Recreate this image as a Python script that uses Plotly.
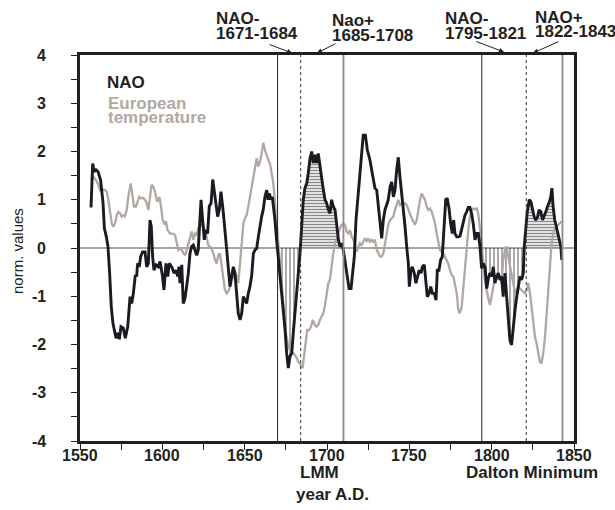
import numpy as np
import plotly.graph_objects as go

# ---------------- data ----------------
nao_years = [1556.7, 1557.7, 1558.5, 1559.7, 1561, 1562.5, 1564, 1564.8, 1566, 1567, 1568, 1569, 1570,
             1571.9, 1572.9, 1573.9, 1574.9, 1576.3, 1577.5, 1579, 1580.4, 1581.4, 1582.4, 1583.6, 1584.4,
             1585, 1586, 1586.8, 1588, 1589.5, 1590.5, 1591.5, 1592.5, 1593.3, 1594.1, 1594.9, 1596.2,
             1597.6, 1598.6, 1600, 1601, 1602.2, 1603.3, 1604.2, 1605.7, 1607.1, 1608.3, 1609.3, 1610.1,
             1610.7, 1611.8, 1612.7, 1613.8, 1614.8, 1615.8, 1616.8, 1617.8, 1618.8, 1619.8, 1620.9,
             1621.8, 1622.9, 1623.5, 1624.3, 1625.5, 1626.3, 1627.5, 1628.5, 1629.6, 1630.6, 1631.6,
             1632.4, 1633.6, 1634.6, 1635.6, 1637, 1638, 1639.1, 1640, 1641.1, 1642.1, 1643.1, 1644.1,
             1645.1, 1646.1, 1647.2, 1648.2, 1649.2, 1650.2, 1651.2, 1652.2, 1653.2, 1654.3, 1655.3,
             1656.3, 1657.3, 1658.3, 1659.3, 1660.3, 1661.3, 1662.3, 1663.4, 1664.2, 1665, 1666, 1666.8,
             1667.6, 1668.4, 1669.4, 1670.4, 1671.5, 1672.5, 1673.5, 1674.5, 1675.5, 1676.5, 1677.5,
             1678.6, 1679.5, 1680.6, 1681.6, 1682.6, 1683.6, 1684.6, 1685.6, 1686.6, 1687.7, 1688.6,
             1689.7, 1690.7, 1691.7, 1692.7, 1693.7, 1694.7, 1695.7, 1696.8, 1697.8, 1698.8, 1699.8,
             1700.8, 1701.8, 1702.8, 1703.8, 1704.9, 1705.9, 1706.9, 1707.9, 1708.9, 1709.9, 1710.9,
             1712.3, 1713.4, 1714.6, 1715.6, 1716.6, 1717.6, 1718.6, 1719.6, 1721.1, 1722, 1723.3,
             1724.5, 1726.1, 1727.7, 1729.1, 1730.2, 1731.2, 1732.2, 1733.2, 1734.2, 1735.2, 1736.3,
             1737.2, 1738.3, 1739.3, 1740.3, 1741.3, 1742.3, 1743.3, 1744.3, 1745.4, 1746.3, 1747.4,
             1748.4, 1749.4, 1750, 1751, 1751.8, 1753, 1754, 1755.1, 1756, 1757.1, 1757.9, 1759.1, 1760,
             1760.9, 1762, 1763, 1764, 1765.2, 1766.2, 1767, 1768, 1769, 1770, 1771, 1772.1, 1773,
             1774.1, 1775.1, 1776.1, 1776.9, 1777.7, 1778.8, 1779.7, 1780.8, 1781.8, 1782.8, 1783.8,
             1784.8, 1785.8, 1786.8, 1787.9, 1788.9, 1789.9, 1790.9, 1791.9, 1792.9, 1793.9, 1794.9,
             1796, 1797, 1798, 1799, 1800, 1801, 1802, 1803, 1804, 1805, 1806, 1807, 1808.1, 1809.1,
             1810.1, 1811.1, 1812.1, 1813.1, 1814.2, 1815.2, 1816.2, 1817.2, 1818.2, 1819.2, 1819.8,
             1820.6, 1821.6, 1822.8, 1823.8, 1824.9, 1825.8, 1826.8, 1827.9, 1828.8, 1829.9, 1830.9,
             1831.8, 1832.9, 1833.9, 1834.8, 1835.9, 1836.6, 1837.3, 1838.3, 1839.3, 1840.3, 1841.4,
             1842, 1842.6]
nao_values = [0.84, 1.75, 1.58, 1.62, 1.58, 1.41, 0.93, 0.41, 0.23, 0.03, -0.52, -1.22, -1.56,
              -1.87, -1.76, -1.89, -1.63, -1.66, -1.87, -1.63, -1.01, -1.15, -0.94, -0.56, -0.59,
              -0.32, -0.39, -0.18, -0.08, -0.08, -0.39, -0.32, 0.58, 0.44, -0.18, -0.46, -0.35,
              -0.39, -0.28, -0.56, -0.87, -0.32, -0.59, -0.32, -0.39, -0.52, -0.46, -0.59, -0.39,
              -0.73, -0.35, -1.15, -1.04, -0.80, -0.52, -0.11, 0.03, 0.06, -0.04, -0.15,
              -0.04, 0.62, 1.0, 0.65, 0.17, 0.37, 0.30, 0.86, 0.93, 1.42, 1.17,
              0.86, 0.65, 0.79, 1.17, 0.75, 0.30, -0.04, -0.39, -0.80, -0.59, -0.39, -0.52,
              -1.01, -1.35, -1.49, -1.35, -1.01, -1.08, -1.15, -0.94, -0.80, -0.56, -0.11,
              -0.04, -0.01, 0.23, 0.46, 0.65, 0.80, 1.06, 1.20, 1.0, 1.13, 1.0, 1.06,
              0.86, 0.58, 0.17, -0.18, -0.55, -0.90, -1.28, -1.68, -2.18, -2.49, -2.25,
              -2.18, -1.77, -1.35, -0.94, -0.52, -0.11, 0.44, 1.0, 1.24, 1.34, 1.55,
              1.86, 2.0, 1.76, 1.93, 1.76, 1.96, 1.69, 1.41, 1.20, 1.0, 0.93,
              0.79, 0.72, 1.0, 0.86, 0.79, 0.51, 0.17, 0.03, 0.10, -0.04, -0.25,
              -0.59, -0.84, -0.84, -0.46, -0.18, 0.58, 1.0, 1.41, 2.03, 2.34, 2.34,
              2.03, 1.82, 1.48, 1.24, 1.20, 0.86, 0.44, 0.20, 0.58, 0.79, 0.90,
              1.0, 1.27, 1.37, 1.06, 1.20, 1.62, 1.88, 1.48, 1.13, 0.86, 0.44,
              0.03, -0.32, -0.80, -0.46, -0.39, -0.52, -0.73, -0.59, -0.46, -0.52, -0.39, -0.35, -0.66,
              -1.01, -0.94, -0.80, -0.94, -0.94, -1.08, -0.46, -0.46, -0.25, -0.18, 0.30, 1.0, 1.03,
              0.82, 0.51, 0.30, 0.58, 0.30, 0.23, 0.23, 0.25, 0.41, 0.50, 0.68,
              0.75, 0.84, 0.84, 0.70, 0.48, 0.17, 0.30, 0.30, 0.03, -0.42, -0.32,
              -0.40, -0.84, -0.62, -0.52, -0.59, -0.39, -0.73, -0.59, -0.52, -0.66, -0.59, -1.01, -0.52, -1.01,
              -1.56, -1.91, -2.01, -1.63, -1.28, -1.01, -0.80, -0.59, -0.66, -0.52, 0.03,
              0.44, 0.75, 1.0, 0.96, 0.79, 0.65, 0.58, 0.65, 0.79, 0.75, 0.58,
              0.65, 0.75, 0.86, 0.93, 1.06, 1.24, 0.86, 0.58, 0.44, 0.30, 0.17,
              0.03, -0.25]

temp_years = [1556.7, 1558.1, 1559.7, 1561.1, 1562.1, 1563.5, 1565.2, 1566.2, 1567.2, 1568.2, 1569.3,
              1570.2, 1571.3, 1572.3, 1573.3, 1574.3, 1575.3, 1576.3, 1577.3, 1578.4, 1579.3, 1580.8,
              1582, 1582.8, 1584, 1585, 1586, 1587, 1588.1, 1589.5, 1590.5, 1591.5, 1592.5, 1593.5,
              1594.5, 1595.5, 1596.9, 1598.2, 1599.2, 1600.2, 1601.2, 1602.2, 1603.2, 1604.7, 1606.3,
              1607.7, 1608.7, 1609.7, 1610.7, 1611.8, 1612.8, 1613.8, 1614.8, 1615.8, 1616.8, 1617.8,
              1618.8, 1619.8, 1620.9, 1621.8, 1622.9, 1623.9, 1624.9, 1625.9, 1626.9, 1627.9, 1628.9,
              1629.9, 1631, 1632, 1633, 1634, 1635, 1636, 1637, 1638, 1639.1, 1640.1, 1641.1, 1642.1,
              1643.1, 1644.1, 1645.1, 1646.1, 1647.2, 1648.2, 1649.2, 1650.2, 1651.2, 1652.2, 1653.2,
              1654.3, 1655.3, 1656.3, 1657.3, 1658.3, 1659.3, 1660.3, 1661.3, 1662.3, 1663.4, 1664.4,
              1665.4, 1666.4, 1667.4, 1668.4, 1669.4, 1670.4, 1671.5, 1672.5, 1673.9, 1675.1, 1676.5,
              1677.9, 1679.5, 1681.2, 1682.6, 1684, 1685.2, 1686, 1687.2, 1688, 1689.2, 1690.3, 1691.3,
              1692.7, 1693.7, 1694.7, 1695.7, 1696.8, 1697.8, 1698.8, 1699.8, 1700.8, 1701.8, 1702.8,
              1703.8, 1704.9, 1705.9, 1706.9, 1707.9, 1708.9, 1709.9, 1710.9, 1711.9, 1712.9, 1714,
              1715, 1716, 1717, 1718, 1719, 1720, 1721.1, 1722.1, 1723.1, 1724.1, 1725.1, 1726.1,
              1727.1, 1728.1, 1729.1, 1730.2, 1731.2, 1732.2, 1733.2, 1734.2, 1735.2, 1736.3, 1737.2,
              1738.3, 1739.3, 1740.3, 1741.3, 1742.3, 1743.3, 1744.3, 1745.4, 1746.3, 1747.4, 1748.4,
              1749.4, 1750.4, 1751.4, 1752.4, 1753.4, 1754.5, 1755.4, 1756.5, 1757.5, 1758.5, 1759.5,
              1760.5, 1761.5, 1762.5, 1763.6, 1764.5, 1765.6, 1766.6, 1767.6, 1768.6, 1769.6, 1770.6,
              1771.6, 1772.6, 1773.6, 1774.7, 1775.7, 1776.7, 1777.7, 1778.8, 1779.7, 1780.6, 1781.8,
              1782.8, 1783.8, 1784.8, 1785.8, 1786.8, 1787.9, 1788.9, 1789.9, 1790.9, 1791.9, 1792.9,
              1793.9, 1794.9, 1796, 1797, 1798, 1799, 1800, 1801, 1802, 1803, 1804, 1805, 1806, 1807,
              1808.1, 1809.1, 1810.1, 1811.1, 1812.1, 1813.1, 1814.2, 1815.2, 1816.2, 1817.2, 1818.2,
              1819.2, 1820.2, 1821.2, 1822.2, 1823.3, 1824.3, 1825.3, 1826.3, 1827.3, 1828.3, 1829.3,
              1830.3, 1831.3, 1832.4, 1833.4, 1834.4, 1835.4, 1836.4, 1837.4, 1838.4, 1839.4, 1840.4,
              1841.4, 1842.4]
temp_values = [1.41, 1.48, 1.41, 1.31, 1.20, 1.22, 1.20, 1.17, 1.0, 0.72, 0.51,
               0.44, 0.51, 0.68, 0.75, 0.72, 0.65, 0.68, 0.66, 0.79, 1.06, 1.34,
               1.06, 0.86, 0.86, 0.96, 1.06, 1.03, 1.04, 1.0, 0.93, 0.79, 1.06, 1.31,
               1.27, 1.17, 0.96, 1.06, 0.86, 0.58, 0.51, 0.55, 0.37, 0.30, 0.30,
               0.27, 0.12, -0.04, -0.01, -0.04, -0.11, -0.15, -0.04, 0.10, 0.23, 0.34,
               0.17, 0.30, 0.27, 0.41, 0.44, 0.58, 0.44, 0.37, 0.23, 0.06, 0.03,
               -0.01, -0.11, -0.25, -0.32, -0.15, -0.11, -0.39, -0.59, -0.87, -0.94, -0.90, -0.80, -0.66,
               -0.59, -0.52, -0.59, -0.73, -0.32, 0.10, 0.51, 0.62, 0.68, 0.86, 1.06,
               1.24, 1.41, 1.62, 1.86, 1.69, 1.79, 1.96, 2.18, 2.03, 1.91, 1.82,
               1.75, 1.58, 1.34, 0.96, 0.45, 0.10, -0.30, -0.80, -1.35, -1.77, -2.05,
               -2.15, -2.18, -2.25, -2.36, -2.42, -2.49, -2.25, -1.91, -1.70, -1.70, -1.63, -1.49,
               -1.60, -1.63, -1.60, -1.49, -1.42, -1.35, -1.18, -0.94, -0.73, -0.66, -0.32,
               -0.11, 0.10, 0.23, 0.30, 0.41, 0.48, 0.51, 0.48, 0.34, 0.30, 0.37,
               0.23, 0.17, 0.03, -0.08, 0.03, 0.10, 0.06, 0.13, 0.20, 0.13, 0.20, 0.12,
               0.17, 0.13, 0.17, -0.04, -0.12, -0.18, -0.18, -0.11, 0.08, 0.30, 0.48,
               0.58, 0.62, 0.65, 0.79, 0.89, 1.0, 0.89, 0.93, 0.89, 0.93, 0.89,
               0.79, 0.68, 0.62, 0.55, 0.48, 0.58, 0.79, 1.0, 1.13, 1.06, 1.0,
               0.86, 0.79, 0.82, 0.75, 0.65, 0.51, 0.30, 0.10, -0.04, -0.08, -0.11,
               -0.18, -0.25, -0.32, -0.46, -0.56, -0.59, -0.73, -0.94, -1.28, -1.35, -1.22,
               -0.80, -0.45, 0.05, 0.37, 0.65, 0.79, 0.82, 0.80, 0.82, 0.70, 0.40,
               0.10, -0.30, -0.70, -0.90, -1.05, -1.18, -1.01, -0.80, -0.59, -0.66, -0.52, -0.59, -0.73, -0.25,
               -0.04, 0.03, -0.18, -0.39, -0.52, -0.73, -0.94, -0.87, -0.80, -0.84, -0.87,
               -0.90, -0.94, -0.87, -0.73, -0.94, -1.28, -1.63, -1.84, -1.98, -2.18, -2.36,
               -2.39, -2.18, -1.84, -1.35, -0.80, -0.32, 0.10, 0.30, 0.41, 0.44, 0.48,
               0.51, 0.55]

# phase windows (year ranges) shown by the vertical lines and hatching
phase_windows = [(1670, 1684, "neg"), (1684, 1710, "pos"), (1794, 1821, "neg"), (1821, 1843, "pos")]
phase_labels = [("NAO-", "1671-1684"), ("Nao+", "1685-1708"), ("NAO-", "1795-1821"), ("NAO+", "1822-1843")]
solid_lines = [1670, 1794]
dashed_lines = [1684, 1821]
grey_lines = [1710, 1843]
x_ticks = [1550, 1600, 1650, 1700, 1750, 1800, 1850]
y_ticks = [-4, -3, -2, -1, 0, 1, 2, 3, 4]

# ---------------- figure ----------------
W, H = 615, 510
SL, SR, ST, SB = 80, 574, 55, 441      # plot box in page pixels
ML, MR, MT, MB = SL, W - SR, ST, H - SB
PW, PH = SR - SL, SB - ST
DARK = "#231f20"
GREY = "#b2a7a2"
FONT = "Liberation Sans, Arial, sans-serif"


def px(xp):
    return (xp - SL) / PW


def py(yp):
    return (SB - yp) / PH


fig = go.Figure()

ny = np.array(nao_years, dtype=float)
nv = np.array(nao_values, dtype=float)
for a, b, kind in phase_windows:
    inside = (ny > a) & (ny < b)
    xs = np.concatenate([[a], ny[inside], [b]])
    ys = np.interp(xs, ny, nv)
    if kind == "neg":
        ys = np.minimum(ys, 0)
        pat = dict(shape="|", size=4, solidity=0.35, fgcolor="#111111", bgcolor="rgba(0,0,0,0)")
    else:
        ys = np.maximum(ys, 0)
        pat = dict(shape="-", size=3, solidity=0.5, fgcolor="#111111", bgcolor="rgba(0,0,0,0)")
    fig.add_trace(go.Scatter(x=xs, y=ys, mode="lines", line=dict(width=0, color="rgba(0,0,0,0)"),
                             fill="tozeroy", fillcolor="rgba(0,0,0,0)", fillpattern=pat,
                             hoverinfo="skip", showlegend=False))

fig.add_trace(go.Scatter(x=temp_years, y=temp_values, mode="lines",
                         line=dict(color=GREY, width=2.3), showlegend=False))
fig.add_trace(go.Scatter(x=nao_years, y=nao_values, mode="lines",
                         line=dict(color="#1a1a22", width=2.9), showlegend=False))

shapes = []
shapes.append(dict(type="line", xref="paper", yref="y", x0=0, x1=1, y0=0, y1=0,
                   line=dict(color="#8a8680", width=1.6), layer="below"))
for xv in solid_lines:
    shapes.append(dict(type="line", xref="x", yref="paper", x0=xv, x1=xv, y0=0, y1=1,
                       line=dict(color="#222", width=1)))
for xv in dashed_lines:
    shapes.append(dict(type="line", xref="x", yref="paper", x0=xv, x1=xv, y0=0, y1=1,
                       line=dict(color="#333", width=1, dash="dot")))
for xv in grey_lines:
    shapes.append(dict(type="line", xref="x", yref="paper", x0=xv, x1=xv, y0=0, y1=1,
                       line=dict(color="#8c8c8c", width=1.8)))

ann = []
bold = dict(family=FONT, size=17, color=DARK, weight="bold")


def text(t, xp, yp, anchor="left", font=None, **kw):
    ann.append(dict(text=t, xref="paper", yref="paper", x=px(xp), y=py(yp), xanchor=anchor,
                    yanchor="middle", showarrow=False, font=font or bold, **kw))


# top phase labels
label_pos = [(214, 19, 33), (330, 21, 35), (443, 19, 33), (533, 17, 31)]
for (l1, l2), (xp, y1, y2) in zip(phase_labels, label_pos):
    text(l1, xp, y1)
    text(l2, xp, y2)

# arrows (head position, tail offset)
arrows = [(292, 53, -24, -9), (317, 53, 20, -10), (504, 52, -29, -11), (533, 53, 27, -12)]
for hx, hy, ax, ay in arrows:
    ann.append(dict(text="", xref="paper", yref="paper", x=px(hx), y=py(hy), ax=ax, ay=ay,
                    showarrow=True, arrowhead=2, arrowsize=1, arrowwidth=1, arrowcolor=DARK))

# tick labels placed on the axes' own scales
tickfont = dict(family=FONT, size=16, color=DARK, weight="bold")
for v in x_ticks:
    ann.append(dict(text=str(v), xref="x", yref="paper", x=v, y=py(456), xanchor="center",
                    yanchor="middle", showarrow=False, font=tickfont))
for v in y_ticks:
    ann.append(dict(text=str(v), xref="paper", yref="y", x=px(48), y=v, xanchor="right",
                    yanchor="middle", showarrow=False, font=tickfont))

# legend text
text("NAO", 105, 82)
text("European", 106, 103, font=dict(family=FONT, size=17, color=GREY, weight="bold"))
text("temperature", 106, 117, font=dict(family=FONT, size=17, color=GREY, weight="bold"))

# bottom labels
text("LMM", 319, 472, anchor="center")
text("Dalton Minimum", 532, 472, anchor="center")
text("year A.D.", 332, 494, anchor="center")
ann.append(dict(text="norm. values", xref="paper", yref="paper", x=px(17), y=py(251),
                xanchor="center", yanchor="middle", showarrow=False, textangle=-90,
                font=dict(family=FONT, size=15, color=DARK)))

axis_common = dict(showline=True, linewidth=2.5, linecolor=DARK, mirror=True, showgrid=False,
                   zeroline=False, ticks="outside", ticklen=6, tickwidth=1, tickcolor=DARK,
                   showticklabels=False, fixedrange=True)

fig.update_layout(
    width=W, height=H,
    margin=dict(l=ML, r=MR, t=MT, b=MB, autoexpand=False),
    paper_bgcolor="white", plot_bgcolor="white",
    showlegend=False, hovermode=False,
    xaxis=dict(range=[1550, 1850], tickvals=x_ticks,
               minor=dict(dtick=25, tick0=1550, ticks="outside", ticklen=6, tickcolor=DARK),
               **axis_common),
    yaxis=dict(range=[-4, 4], tickvals=y_ticks,
               minor=dict(dtick=0.5, tick0=0, ticks="outside", ticklen=6, tickcolor=DARK),
               **axis_common),
    shapes=shapes,
    annotations=ann,
)

# remove the default page margin so the 615x510 figure fills the window exactly
page_fix = ("document.documentElement.style.overflow='hidden';"
            "document.body.style.margin='0';document.body.style.overflow='hidden';")
fig.write_html("out.html", post_script=page_fix, config={"displayModeBar": False})
